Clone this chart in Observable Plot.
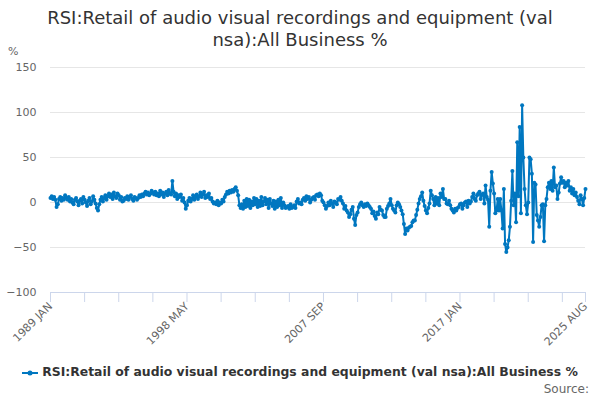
<!DOCTYPE html>
<html><head><meta charset="utf-8">
<script src="https://cdn.jsdelivr.net/npm/d3@7"></script>
<script src="https://cdn.jsdelivr.net/npm/@observablehq/plot@0.6"></script>
<style>
body{margin:0;background:#fff;font-family:"DejaVu Sans",sans-serif;}
#wrap{position:relative;width:600px;height:400px;overflow:hidden;}
#title{height:55px;text-align:center;font-size:18px;color:#333;line-height:22px;padding-top:7px;box-sizing:border-box;}
#unit{position:absolute;left:8px;top:45px;font-size:11px;color:#666;}
#legend{position:absolute;left:0;top:364px;width:600px;text-align:center;font-size:12.4px;font-weight:bold;color:#333;white-space:nowrap;}
#legend svg{vertical-align:middle;margin-right:4px;}
#source{position:absolute;right:11px;top:382px;font-size:12px;color:#666;}
svg.plot{display:block;}
</style>
</head><body>
<div id="wrap">
<div id="title">RSI:Retail of audio visual recordings and equipment (val<br>nsa):All Business %</div>
<div id="unit">%</div>
<div id="chart"></div>
<div id="legend"></div>
<div id="source">Source:</div>
</div>
<script>
const seriesName = "RSI:Retail of audio visual recordings and equipment (val nsa):All Business %";
const startYear = 1989;
const monthNames = ["JAN","FEB","MAR","APR","MAY","JUN","JUL","AUG","SEP","OCT","NOV","DEC"];
const values = [
 5, 7, 4, 6, 3, -5, -2, 4, 6, 2, 5, 3,
 8, 5, 3, 6, 1, 4, 0, -2, 3, 5, 1, -3,
 2, 4, -1, 6, 3, 0, -4, 2, 5, -2, 1, 7,
 3, -1, -6, -9, -2, 3, 6, 1, 5, 8, 3, 7,
 10, 6, 9, 4, 11, 7, 5, 10, 8, 3, 6, 1,
 2, 5, 4, 7, 3, 6, 8, 4, 2, 6, 5, 3,
 5, 8, 6, 9, 7, 10, 12, 9, 11, 8, 10, 13,
 11, 9, 12, 8, 10, 7, 13, 9, 11, 6, 10, 12,
 8, 14, 10, 9, 24, 12, 7, 10, 4, 8, 6, 9,
 2, 5, 0, -7, -3, 2, 5, 1, 4, 8, 3, 6,
 9, 4, 7, 11, 6, 9, 12, 5, 8, 6, 10, 4,
 5, 1, -1, 0, -2, 2, -3, 0, -1, 3, 1, 6,
 9, 12, 10, 13, 11, 14, 12, 15, 17, 13, 8, -3,
 -6, -2, -7, 2, -5, 4, -4, 3, -6, 1, -3, 5,
 -2, 4, -5, 2, -4, 6, -3, 1, 5, -2, 3, -6,
 4, -1, -4, 2, -7, 1, -5, 3, -3, 5, -6, 0,
 -3, -6, -5, -4, -7, -2, -6, -5, -3, -6, 1, 4,
 -1, 0, -2, 3, 5, 2, 7, 4, 6, 0, 3, 5,
 6, 3, 8, 9, 7, 10, 8, 2, 0, -3, -7, -4,
 0, -3, 2, -1, -5, 1, 0, -2, 4, 3, 6, 2,
 -1, -7, -4, -9, -11, -16, -13, -8, -5, -18, -25, -14,
 -11, -5, -2, 0, -3, -5, -2, -4, -1, -3, -5, -7,
 -12, -10, -15, -18, -11, -13, -5, -8, -9, -14, -16, -16,
 -7, -4, -1, 4, -3, -7, -9, -11, -3, 0, -2, -5,
 -9, -13, -24, -35, -29, -31, -28, -27, -26, -22, -20, -20,
 -14, -8, -1, 4, 7, 11, 2, -4, -9, -12, -6, -1,
 13, 8, 4, -3, 6, -1, 5, -3, 10, 6, 15, 4,
 4, -1, -2, 2, -3, -7, -9, -11, -7, -9, -6, -5,
 -2, -1, -7, -3, 0, 1, -5, 2, -1, 1, 6, 10,
 4, 2, 8, 10, 12, 4, 9, 10, -1, 19, 6, 3,
 -27, 13, 34, 21, 10, -12, -9, 4, -9, 4, -9, -29,
 15, -46, -55, -50, -42, -27, 2, 35, -3, 10, -22, 67,
 7, 84, -12, 108, 50, 15, -3, -13, 0, 50, 48, 32,
 -44, 22, 20, -14, -20, -27, -16, -3, -2, -43, -3, 4,
 17, 22, 15, 24, 13, 39, 17, 19, 4, 11, 21, 28,
 22, 24, 17, 22, 19, 24, 13, 17, 10, 15, 8, 11,
 6, 2, -2, 8, 4, -3, 5, 15
];
const yTicks = [-100, -50, 0, 50, 100, 150];
const tickStep = 28;
const labelEvery = 4;

const monthLabel = i => `${startYear + Math.floor(i / 12)} ${monthNames[i % 12]}`;
const data = values.map((v, i) => ({i, v, label: monthLabel(i)}));
const last = values.length - 1;
const tickIdx = d3.range(0, last, tickStep).concat([last]);
const labelIdx = new Set(tickIdx.filter((t, k) => k % labelEvery === 0).concat([last]));

const color = "#0077c0";
const chart = Plot.plot({
  width: 600,
  height: 300,
  marginTop: 12,
  marginBottom: 63,
  marginLeft: 50,
  marginRight: 15,
  style: {fontFamily: "DejaVu Sans, sans-serif", fontSize: "11px", background: "#fff"},
  x: {type: "linear", domain: [0, last], axis: null},
  y: {domain: [-100, 150], axis: null},
  marks: [
    Plot.gridY(yTicks.filter(d => d > -100), {stroke: "#e6e6e6", strokeOpacity: 1}),
    Plot.axisY(yTicks, {tickSize: 0, tickPadding: 14, fill: "#666", label: null}),
    Plot.ruleY([-100], {stroke: "#ccd6eb"}),
    Plot.axisX(tickIdx, {
      tickSize: 10, stroke: "#ccd6eb", fill: "#666", tickRotate: -45, tickPadding: 2,
      tickFormat: i => labelIdx.has(i) ? monthLabel(i) : "", label: null
    }),
    Plot.line(data, {x: "i", y: "v", stroke: color, strokeWidth: 2}),
    Plot.dot(data, {x: "i", y: "v", r: 2, fill: color, stroke: null})
  ]
});
document.getElementById("chart").appendChild(chart);

document.getElementById("legend").innerHTML =
  `<svg width="16" height="10"><line x1="0" x2="16" y1="5" y2="5" stroke="${color}" stroke-width="2"/><circle cx="8" cy="5" r="2.5" fill="${color}"/></svg>` +
  seriesName;
</script>
</body></html>
